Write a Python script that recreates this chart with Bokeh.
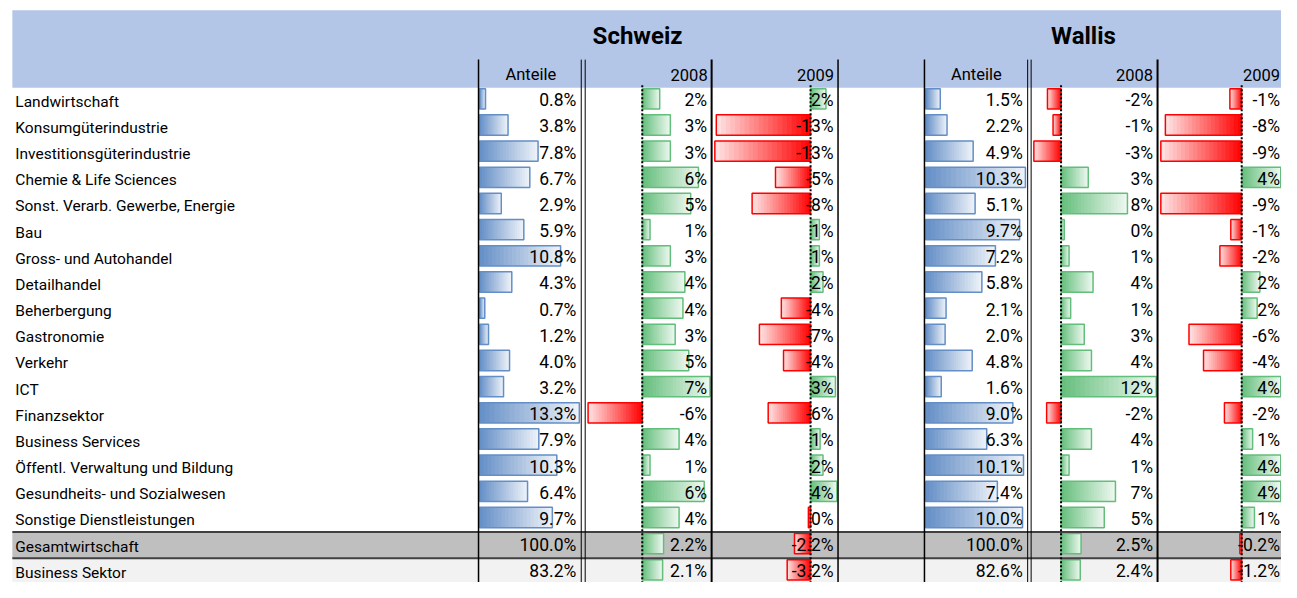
from bokeh.plotting import figure
from bokeh.models import Range1d, ColumnDataSource
from bokeh.core.properties import value
from bokeh.embed import file_html
from bokeh.resources import INLINE

# ---------------- data ----------------
sectors = [
    "Landwirtschaft", "Konsumgüterindustrie", "Investitionsgüterindustrie",
    "Chemie & Life Sciences", "Sonst. Verarb. Gewerbe, Energie", "Bau",
    "Gross- und Autohandel", "Detailhandel", "Beherbergung", "Gastronomie",
    "Verkehr", "ICT", "Finanzsektor", "Business Services",
    "Öffentl. Verwaltung und Bildung", "Gesundheits- und Sozialwesen",
    "Sonstige Dienstleistungen", "Gesamtwirtschaft", "Business Sektor",
]
regions = ["Schweiz", "Wallis"]
col_headers = ["Anteile", "2008", "2009"]

ch_anteile = [0.8, 3.8, 7.8, 6.7, 2.9, 5.9, 10.8, 4.3, 0.7, 1.2, 4.0, 3.2, 13.3, 7.9, 10.3, 6.4, 9.7, 100.0, 83.2]
ch_2008 = [1.8, 2.9, 2.9, 5.8, 5.0, 0.8, 2.9, 4.4, 4.2, 3.4, 4.8, 7.0, -5.6, 3.8, 0.8, 6.4, 3.8, 2.2, 2.1]
ch_2009 = [2.1, -12.9, -13.1, -4.8, -8.0, 1.2, 1.2, 1.7, -4.0, -7.0, -3.7, 3.4, -5.8, 1.3, 1.7, 3.6, -0.3, -2.2, -3.2]
vs_anteile = [1.5, 2.2, 4.9, 10.3, 5.1, 9.7, 7.2, 5.8, 2.1, 2.0, 4.8, 1.6, 9.0, 6.3, 10.1, 7.4, 10.0, 100.0, 82.6]
vs_2008 = [-1.7, -1.0, -3.4, 3.4, 8.3, 0.4, 1.0, 4.0, 1.2, 2.9, 3.8, 11.9, -1.8, 3.8, 1.0, 6.8, 5.4, 2.5, 2.4]
vs_2009 = [-1.3, -8.4, -8.9, 4.3, -8.9, -1.2, -2.4, 2.0, 1.7, -5.8, -4.2, 4.3, -1.9, 1.2, 4.3, 4.3, 1.4, -0.2, -1.2]

N_SECTOR_ROWS = 17  # rows above the two total rows

# ---------------- layout (in a 1297-wide sheet space) ----------------
FIG_W, FIG_H = 1281, 582
SHEET_W = 1297.0
SHEET_H = 600.6
ROW_TOP0 = 89.5
ROW_H = 27.0
ROW_C0 = ROW_TOP0 + ROW_H / 2

BLUE, GREEN, RED = "#638EC6", "#63BE7B", "#FF0000"
HEADER_BG = "#B4C6E7"

LABEL_FONT, LABEL_SIZE = "Roboto", "15.5px"
NUM_FONT, NUM_SIZE = "Roboto", "17.5px"

# columns: (name, values, zero pos, units per %, text right pos, kind)
columns = [
    ("ch_a", ch_anteile, 485.0, 7.6, 583.0, "share"),
    ("ch_08", ch_2008, 649.8, 9.8, 715.5, "growth"),
    ("ch_09", ch_2009, 820.2, 7.4, 843.5, "growth"),
    ("vs_a", vs_anteile, 936.8, 9.8, 1035.0, "share"),
    ("vs_08", vs_2008, 1073.8, 8.1, 1167.0, "growth"),
    ("vs_09", vs_2009, 1256.7, 9.2, 1295.5, "growth"),
]

p = figure(width=FIG_W, height=FIG_H, x_range=Range1d(0, SHEET_W), y_range=Range1d(SHEET_H, 0),
           output_backend="svg", toolbar_location=None, min_border=0,
           x_axis_type=None, y_axis_type=None)
p.grid.visible = False
p.outline_line_color = None
p.background_fill_color = "white"
p.border_fill_color = "white"

# row scale: row index -> vertical position
p.extra_y_ranges = {"rows": Range1d((SHEET_H - ROW_C0) / ROW_H, (0 - ROW_C0) / ROW_H)}
# one value scale per column
p.extra_x_ranges = {name: Range1d((0 - z) / s, (SHEET_W - z) / s) for name, _, z, s, _, _ in columns}

n = len(sectors)

# header band
p.quad(left=[12], right=[SHEET_W], top=[10], bottom=[ROW_TOP0 + 0.5], fill_color=HEADER_BG, line_color=None)

# total rows bands
p.quad(left=[12], right=[SHEET_W], top=[N_SECTOR_ROWS - 0.5], bottom=[N_SECTOR_ROWS + 0.5],
       fill_color="#BFBFBF", line_color=None, y_range_name="rows")
p.quad(left=[12], right=[SHEET_W], top=[N_SECTOR_ROWS + 0.5], bottom=[N_SECTOR_ROWS + 1.6],
       fill_color="#F2F2F2", line_color=None, y_range_name="rows")

# ---------------- bars with gradient ----------------
def mix(c, f):
    r, g, b = int(c[1:3], 16), int(c[3:5], 16), int(c[5:7], 16)
    r = round(r + (255 - r) * f); g = round(g + (255 - g) * f); b = round(b + (255 - b) * f)
    return "#%02x%02x%02x" % (r, g, b)

NSEG = 20
BAR_TOP = -12.0 / ROW_H
BAR_BOT = 9.0 / ROW_H

for name, vals, z, s, tr, kind in columns:
    rows = range(N_SECTOR_ROWS) if kind == "share" else range(n)
    L, R, T, B, C = [], [], [], [], []
    oL, oR, oT, oB, oC = [], [], [], [], []
    # nested quads: longest (lightest) first, shorter (darker) on top -> no seams
    for k in range(NSEG - 1, -1, -1):
        for i in rows:
            v = vals[i]
            base = BLUE if kind == "share" else (GREEN if v >= 0 else RED)
            e = v * (k + 1) / NSEG
            L.append(min(0, e)); R.append(max(0, e))
            T.append(i + BAR_TOP); B.append(i + BAR_BOT)
            C.append(mix(base, 0.9 * (k + 0.5) / NSEG))
    for i in rows:
        v = vals[i]
        base = BLUE if kind == "share" else (GREEN if v >= 0 else RED)
        oL.append(min(0, v)); oR.append(max(0, v)); oT.append(i + BAR_TOP); oB.append(i + BAR_BOT); oC.append(base)
    p.quad(source=ColumnDataSource(dict(left=L, right=R, top=T, bottom=B, color=C)),
           left="left", right="right", top="top", bottom="bottom", fill_color="color",
           line_color=None, x_range_name=name, y_range_name="rows")
    p.quad(source=ColumnDataSource(dict(left=oL, right=oR, top=oT, bottom=oB, color=oC)),
           left="left", right="right", top="top", bottom="bottom", fill_alpha=0,
           line_color="color", line_width=1.5, x_range_name=name, y_range_name="rows")

# total rows separators
p.segment(x0=[12, 12], x1=[SHEET_W, SHEET_W], y0=[N_SECTOR_ROWS - 0.5, N_SECTOR_ROWS + 0.5],
          y1=[N_SECTOR_ROWS - 0.5, N_SECTOR_ROWS + 0.5], line_color="#404040", line_width=2,
          y_range_name="rows")

# vertical cell borders
VLINE_TOP = 61
borders = [(484, 1.5), (588, 1), (592, 1), (720, 2), (848, 1.5),
           (935.5, 1.5), (1040, 1), (1043.5, 1), (1171.5, 2)]
p.segment(x0=[b[0] for b in borders], x1=[b[0] for b in borders],
          y0=[VLINE_TOP] * len(borders), y1=[SHEET_H] * len(borders),
          line_color="black", line_width=[b[1] for b in borders])

# dashed zero axes of the growth bars
for name, vals, z, s, tr, kind in columns:
    if kind == "growth":
        p.segment(x0=[0], x1=[0], y0=[-0.58], y1=[n + 1], line_color="black", line_width=2,
                  line_dash="2 2", x_range_name=name, y_range_name="rows")

# ---------------- texts ----------------
LBL_OFF = 1.5 / ROW_H
p.text(x=[15] * n, y=[i + LBL_OFF for i in range(n)], text=sectors, text_align="left",
       text_baseline="middle", text_font=value(LABEL_FONT), text_font_size=LABEL_SIZE,
       text_color="black", y_range_name="rows")

for name, vals, z, s, tr, kind in columns:
    if kind == "share":
        labels = ["%.1f%%" % v for v in vals]
    else:
        labels = [("%d%%" % int(round(v))) if i < N_SECTOR_ROWS else ("%.1f%%" % v)
                  for i, v in enumerate(vals)]
    p.text(x=[tr] * n, y=list(range(n)), text=labels, text_align="right",
           text_baseline="middle", text_font=value(NUM_FONT), text_font_size=NUM_SIZE,
           text_color="black", y_range_name="rows")

# region titles
p.text(x=[645, 1096.5], y=[37, 37], text=regions, text_align="center", text_baseline="middle",
       text_font=value("Roboto"), text_font_style="bold", text_font_size="24px", text_color="black")

# column headers
HDR_Y = 76.5
hx = [537, 716, 844, 988, 1167, 1295.5]
ha = ["center", "right", "right", "center", "right", "right"]
p.text(x=hx, y=[HDR_Y] * 6, text=col_headers * 2, text_align=ha, text_baseline="middle",
       text_font=value("Roboto"), text_font_size="16.5px", text_color="black")

open("out.html", "w").write(file_html(p, INLINE))
